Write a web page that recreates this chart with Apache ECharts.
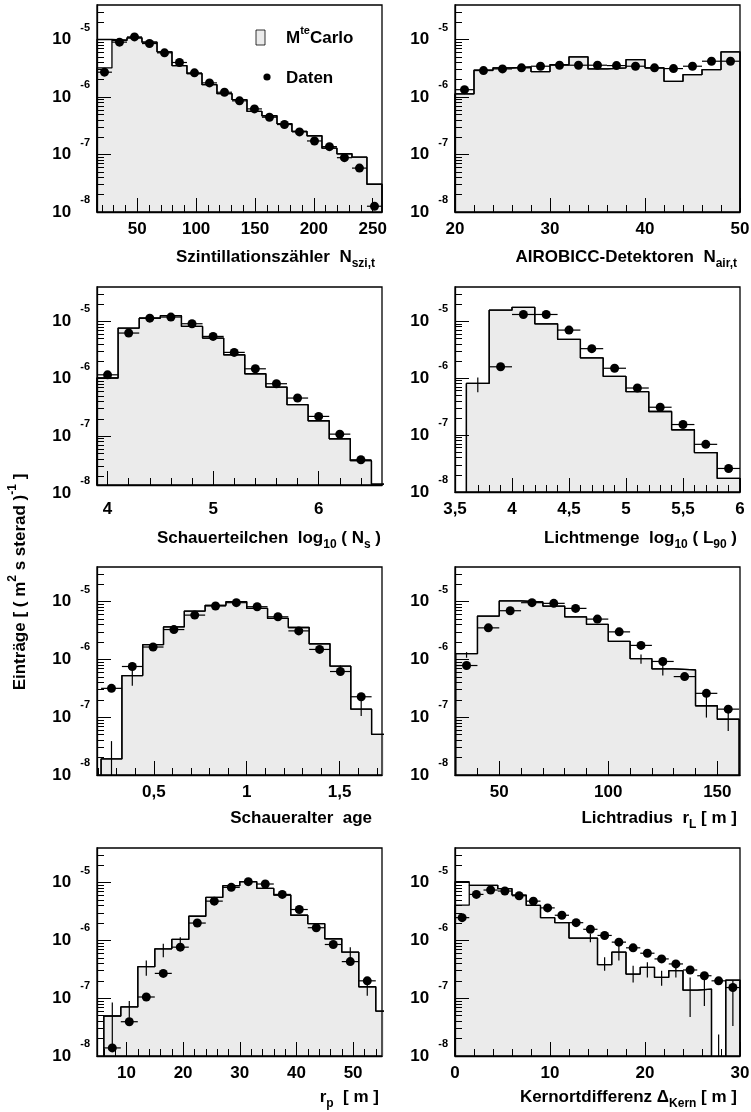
<!DOCTYPE html>
<html><head><meta charset="utf-8">
<script src="https://cdn.jsdelivr.net/npm/echarts@6/dist/echarts.min.js"></script>
<style>html,body{margin:0;padding:0;background:#fff}#c{width:751px;height:1112px}</style>
</head><body><div id="c"></div><script>
// ---------------- DATA ----------------
const Y_MAX = 3.98e-5;

// 1: Szintillationszähler N_szi,t
const p1Edges = [15.8, 28.5, 41.3, 54.0, 66.8, 79.5, 92.2, 105.0, 117.7, 130.5, 143.2, 155.9, 168.7, 181.4, 194.2, 206.9, 219.6, 232.4, 245.1, 257.9];
const p1Mc    = [1.0e-5, 9.7e-6, 1.07e-5, 8.98e-6, 6.1e-6, 3.52e-6, 2.55e-6, 1.64e-6, 1.14e-6, 8.98e-7, 5.62e-7, 4.72e-7, 3.43e-7, 2.52e-7, 2.12e-7, 1.29e-7, 1.03e-7, 8.98e-8, 3.04e-8];
const p1FillFirst = 3.2e-6;
const p1Data  = [2.70e-6, 9.0e-6, 1.11e-5, 8.5e-6, 5.86e-6, 3.98e-6, 2.63e-6, 1.76e-6, 1.21e-6, 8.57e-7, 6.21e-7, 4.45e-7, 3.32e-7, 2.47e-7, 1.72e-7, 1.37e-7, 8.8e-8, 5.8e-8, 1.26e-8];
const p1XTicks = [50, 100, 150, 200, 250];

// 2: AIROBICC-Detektoren N_air,t
const p2Edges = [20, 22, 24, 26, 28, 30, 32, 34, 36, 38, 40, 42, 44, 46, 48, 50];
const p2Mc    = [1.13e-6, 2.92e-6, 3.21e-6, 3.34e-6, 2.77e-6, 3.66e-6, 4.99e-6, 3.08e-6, 3.21e-6, 4.48e-6, 3.21e-6, 1.87e-6, 2.45e-6, 3.0e-6, 6.1e-6];
const p2Data  = [1.34e-6, 2.88e-6, 3.08e-6, 3.21e-6, 3.43e-6, 3.57e-6, 3.57e-6, 3.57e-6, 3.52e-6, 3.43e-6, 3.21e-6, 3.12e-6, 3.43e-6, 4.19e-6, 4.19e-6];
const p2XTicks = [20, 30, 40, 50];

// 3: Schauerteilchen log10(Ns)
const p3Edges = [3.9, 4.1, 4.3, 4.5, 4.7, 4.9, 5.1, 5.3, 5.5, 5.7, 5.9, 6.1, 6.3, 6.5, 6.7];
const p3Mc    = [1.03e-6, 7.65e-6, 1.14e-5, 1.26e-5, 8.18e-6, 5.12e-6, 2.62e-6, 1.22e-6, 7.16e-7, 3.52e-7, 1.85e-7, 8.97e-8, 3.72e-8, 1.45e-8];
const p3Data  = [1.17e-6, 6.26e-6, 1.14e-5, 1.19e-5, 9.1e-6, 5.47e-6, 2.88e-6, 1.49e-6, 8.18e-7, 4.6e-7, 2.2e-7, 1.08e-7, 3.86e-8, null];
const p3XTicks = [4, 5, 6];

// 4: Lichtmenge log10(L90)
const p4Edges = [3.6, 3.8, 4.0, 4.2, 4.4, 4.6, 4.8, 5.0, 5.2, 5.4, 5.6, 5.8, 6.0];
const p4Mc    = [8.07e-7, 1.56e-5, 1.75e-5, 8.98e-6, 4.79e-6, 2.26e-6, 1.07e-6, 5.78e-7, 2.59e-7, 1.24e-7, 4.92e-8, 1.73e-8];
const p4Data  = [null, 1.58e-6, 1.31e-5, 1.31e-5, 6.97e-6, 3.29e-6, 1.49e-6, 6.7e-7, 3.08e-7, 1.53e-7, 6.87e-8, 2.59e-8];
const p4McErr = [[3.7, 5.62e-7, 1.03e-6]];
const p4XTicks = [3.5, 4, 4.5, 5, 5.5, 6];

// 5: Schaueralter age
const p5Edges = [0.216, 0.328, 0.440, 0.552, 0.664, 0.776, 0.888, 1.000, 1.112, 1.224, 1.336, 1.448, 1.560, 1.672, 1.784];
const p5Mc    = [1.9e-8, 5.26e-7, 1.8e-6, 3.66e-6, 6.88e-6, 8.63e-6, 1.0e-5, 7.65e-6, 5.12e-6, 3.57e-6, 1.87e-6, 7.65e-7, 1.38e-7, 5.05e-8];
const p5Data  = [3.16e-7, 7.55e-7, 1.64e-6, 3.29e-6, 5.85e-6, 8.4e-6, 9.6e-6, 8.18e-6, 5.47e-6, 3.12e-6, 1.49e-6, 6.18e-7, 2.26e-7, null];
const p5McErr = [[0.272, 1.0e-8, 3.86e-8], [0.384, 3.52e-7, 7.55e-7], [1.504, 5.26e-7, 7.85e-7], [1.616, 1.05e-7, 2.35e-7]];
const p5XTicks = [0.5, 1, 1.5];

// 6: Lichtradius r_L
const p6Edges = [30, 40, 50, 60, 70, 80, 90, 100, 110, 120, 130, 140, 150, 160];
const p6Mc    = [1.26e-6, 5.62e-6, 1.03e-5, 9.87e-6, 8.4e-6, 5.47e-6, 4.03e-6, 2.06e-6, 1.03e-6, 6.87e-7, 6.6e-7, 1.58e-7, 9.23e-8];
const p6Data  = [7.85e-7, 3.52e-6, 6.97e-6, 9.6e-6, 9.35e-6, 7.65e-6, 4.99e-6, 3.0e-6, 1.75e-6, 9.23e-7, 5.05e-7, 2.59e-7, 1.38e-7];
const p6McErr = [[35, 1.07e-6, 1.34e-6], [115, 8.4e-7, 1.22e-6], [125, 5.26e-7, 9.6e-7], [145, 9.86e-8, 2.59e-7], [155, 5.78e-8, 1.38e-7]];
const p6XTicks = [50, 100, 150];

// 7: r_p
const p7Edges = [6, 9, 12, 15, 18, 21, 24, 27, 30, 33, 36, 39, 42, 45, 48, 51, 54, 57];
const p7Mc    = [4.92e-8, 7.06e-8, 3.52e-7, 7.16e-7, 1.04e-6, 2.62e-6, 5.55e-6, 8.87e-6, 1.04e-5, 7.96e-6, 6.1e-6, 2.73e-6, 1.95e-6, 1.07e-6, 6.27e-7, 1.58e-7, 6.0e-8];
const p7Data  = [1.38e-8, 3.92e-8, 1.05e-7, 2.69e-7, 7.65e-7, 2.0e-6, 4.79e-6, 8.29e-6, 1.04e-5, 9.48e-6, 6.26e-6, 3.43e-6, 1.66e-6, 8.51e-7, 4.3e-7, 2.0e-7, null];
const p7McErr = [[7.5, 1.38e-8, 8.4e-8], [10.5, 4.6e-8, 8.97e-8], [13.5, 2.45e-7, 4.48e-7], [16.5, 5.12e-7, 8.75e-7], [19.5, 7.66e-7, 1.14e-6], [49.5, 4.19e-7, 7.66e-7], [52.5, 1.1e-7, 2.0e-7]];
const p7XTicks = [10, 20, 30, 40, 50];

// 8: Kernortdifferenz Δ_Kern
const p8Edges = [0, 1.5, 3, 4.5, 6, 7.5, 9, 10.5, 12, 13.5, 15, 16.5, 18, 19.5, 21, 22.5, 24, 25.5, 27, 28.5, 30];
const p8Mc    = [1.04e-5, 8.98e-6, 8.98e-6, 7.86e-6, 6.1e-6, 4.03e-6, 2.48e-6, 2.03e-6, 1.1e-6, 1.1e-6, 3.81e-7, 6.27e-7, 2.62e-7, 3.43e-7, 2.29e-7, 3.0e-7, 1.38e-7, 1.44e-7, 0, 2.06e-7];
const p8FillFirst = 4.07e-6;
const p8Data  = [2.48e-6, 6.26e-6, 7.45e-6, 7.16e-6, 5.93e-6, 4.79e-6, 3.66e-6, 2.73e-6, 2.03e-6, 1.56e-6, 1.22e-6, 9.35e-7, 7.45e-7, 6.01e-7, 4.79e-7, 3.92e-7, 3.08e-7, 2.45e-7, 2.0e-7, 1.53e-7];
const p8McErr = [[14.25, 9.35e-7, 1.31e-6], [15.75, 3.0e-7, 5.12e-7], [17.25, 4.48e-7, 9.35e-7], [18.75, 1.87e-7, 3.66e-7], [20.25, 2.29e-7, 4.19e-7], [21.75, 1.64e-7, 3.0e-7], [23.25, 2.29e-7, 3.92e-7], [24.75, 4.72e-8, 2.29e-7], [26.25, 7.35e-8, 2.62e-7], [27.75, 1.0e-8, 2.36e-8], [29.25, 3.29e-8, 2.0e-7]];
const p8XTicks = [0, 10, 20, 30];

const titles = [
  '{t|Szintillationszähler  N}{u|szi,t}',
  '{t|AIROBICC-Detektoren  N}{u|air,t}',
  '{t|Schauerteilchen  log}{u|10}{t| ( N}{u|s}{t| )}',
  '{t|Lichtmenge  log}{u|10}{t| ( L}{u|90}{t| )}',
  '{t|Schaueralter  age}',
  '{t|Lichtradius  r}{u|L}{t| [ m ]}',
  '{t|r}{u|p}{t|  [ m ]}',
  '{t|Kernortdifferenz Δ}{u|Kern}{t| [ m ]}'
];
const yTitle = '{t|Einträge [ ( m}{p|2}{t| s sterad )}{p|-1}{t| ]}';

const panels = [
  {edges: p1Edges, mc: p1Mc, data: p1Data, fillFirst: p1FillFirst, mcErr: [], xMin: 15.8, xMax: 257.9, yMin: 1e-8, xTicks: p1XTicks, xMinor: 10},
  {edges: p2Edges, mc: p2Mc, data: p2Data, fillFirst: null, mcErr: [], xMin: 20, xMax: 50, yMin: 1e-8, xTicks: p2XTicks, xMinor: 2},
  {edges: p3Edges, mc: p3Mc, data: p3Data, fillFirst: null, mcErr: [], xMin: 3.9, xMax: 6.6, yMin: 1.4e-8, xTicks: p3XTicks, xMinor: 0.2},
  {edges: p4Edges, mc: p4Mc, data: p4Data, fillFirst: null, mcErr: p4McErr, xMin: 3.5, xMax: 6.0, yMin: 1e-8, xTicks: p4XTicks, xMinor: 0.1},
  {edges: p5Edges, mc: p5Mc, data: p5Data, fillFirst: null, mcErr: p5McErr, xMin: 0.194, xMax: 1.728, yMin: 1e-8, xTicks: p5XTicks, xMinor: 0.1},
  {edges: p6Edges, mc: p6Mc, data: p6Data, fillFirst: null, mcErr: p6McErr, xMin: 29.7, xMax: 160.4, yMin: 1e-8, xTicks: p6XTicks, xMinor: 10},
  {edges: p7Edges, mc: p7Mc, data: p7Data, fillFirst: null, mcErr: p7McErr, xMin: 4.8, xMax: 55.1, yMin: 1e-8, xTicks: p7XTicks, xMinor: 2},
  {edges: p8Edges, mc: p8Mc, data: p8Data, fillFirst: p8FillFirst, mcErr: p8McErr, xMin: 0, xMax: 30, yMin: 1e-8, xTicks: p8XTicks, xMinor: 2}
];

// ---------------- LAYOUT / STYLE ----------------
const F = "'Liberation Sans', Arial, Helvetica, sans-serif";
const layout = [
  {left: 97,  top: 5,   width: 285, height: 207, labMargin: 9,  titleX: 375, titleY: 257},
  {left: 455, top: 5,   width: 285, height: 207, labMargin: 9,  titleX: 737, titleY: 257},
  {left: 97,  top: 287, width: 285, height: 198, labMargin: 16, titleX: 381, titleY: 538},
  {left: 455, top: 287, width: 285, height: 205, labMargin: 9,  titleX: 737, titleY: 538},
  {left: 97,  top: 567, width: 285, height: 208, labMargin: 9,  titleX: 372, titleY: 818},
  {left: 455, top: 567, width: 285, height: 208, labMargin: 9,  titleX: 737, titleY: 818},
  {left: 97,  top: 848, width: 285, height: 208, labMargin: 9,  titleX: 379, titleY: 1097},
  {left: 455, top: 848, width: 285, height: 208, labMargin: 9,  titleX: 737, titleY: 1097}
];
const yRich = {
  b: {fontSize: 17, fontWeight: 'bold', fontFamily: F, color: '#000', lineHeight: 35},
  s: {fontSize: 11, fontWeight: 'bold', fontFamily: F, color: '#000', verticalAlign: 'top', padding: [0, 0, 0, 9]}
};
const titleRich = {
  t: {fontSize: 17, fontWeight: 'bold', fontFamily: F, color: '#000', lineHeight: 26},
  u: {fontSize: 12, fontWeight: 'bold', fontFamily: F, color: '#000', verticalAlign: 'bottom'},
  p: {fontSize: 12, fontWeight: 'bold', fontFamily: F, color: '#000', verticalAlign: 'top'}
};
const yLabelFmt = v => '{b|10}{s|' + Math.round(v) + '}';

const chart = echarts.init(document.getElementById('c'), null, {renderer: 'canvas'});
const option = {animation: false, backgroundColor: '#fff', grid: [], xAxis: [], yAxis: [], series: []};

function lineSeg(params, api) {
  const a = api.coord([api.value(0), api.value(2)]);
  const b = api.coord([api.value(1), api.value(3)]);
  return {type: 'line', shape: {x1: a[0], y1: a[1], x2: b[0], y2: b[1]}, style: {stroke: '#000', lineWidth: 1.2}};
}

panels.forEach((P, i) => {
  const L = layout[i];
  const yLo = Math.log10(P.yMin), yHi = Math.log10(Y_MAX);
  const lg = v => (v > 0 ? Math.log10(v) : yLo - 1);
  option.grid.push({left: L.left, top: L.top, width: L.width, height: L.height, show: true,
    borderColor: '#000', borderWidth: 1.3, backgroundColor: 'rgba(0,0,0,0)', z: 10,
    containLabel: false, outerBoundsMode: 'none'});

  const yMaj = [], yMin = [];
  for (let n = -9; n <= -4; n++) {
    if (n >= yLo - 1e-9 && n <= yHi) yMaj.push(n);
    for (let k = 2; k <= 9; k++) { const v = n + Math.log10(k); if (v > yLo && v < yHi) yMin.push(v); }
  }
  const xMin = [];
  for (let v = Math.ceil(P.xMin / P.xMinor - 1e-9) * P.xMinor; v <= P.xMax + 1e-9; v += P.xMinor) {
    const r = Math.round(v * 1000) / 1000;
    if (!P.xTicks.some(t => Math.abs(t - r) < 1e-6) && r > P.xMin && r < P.xMax) xMin.push(r);
  }
  const common = {type: 'value', gridIndex: i, min: P.xMin, max: P.xMax, position: 'bottom', z: 12,
    splitLine: {show: false}, minorTick: {show: false}, minorSplitLine: {show: false}};
  option.xAxis.push(Object.assign({}, common, {
    axisLine: {show: true, onZero: false, lineStyle: {color: '#000', width: 1.3}},
    axisTick: {show: true, inside: true, length: 14, customValues: P.xTicks, lineStyle: {color: '#000', width: 1}},
    axisLabel: {show: true, customValues: P.xTicks, margin: L.labMargin, fontSize: 17, fontWeight: 'bold',
      fontFamily: F, color: '#000', showMinLabel: true, showMaxLabel: true, hideOverlap: false,
      formatter: v => String(v).replace('.', ',')}
  }));
  option.xAxis.push(Object.assign({}, common, {
    axisLine: {show: false, onZero: false},
    axisTick: {show: true, inside: true, length: 7, customValues: xMin, lineStyle: {color: '#000', width: 1}},
    axisLabel: {show: false}
  }));
  const ycommon = {type: 'value', gridIndex: i, min: yLo, max: yHi, position: 'left', z: 12,
    splitLine: {show: false}, minorTick: {show: false}, minorSplitLine: {show: false}};
  option.yAxis.push(Object.assign({}, ycommon, {
    axisLine: {show: true, onZero: false, lineStyle: {color: '#000', width: 1.3}},
    axisTick: {show: true, inside: true, length: 14, customValues: yMaj, lineStyle: {color: '#000', width: 1}},
    axisLabel: {show: true, customValues: yMaj, margin: 7, formatter: yLabelFmt, rich: yRich,
      showMinLabel: true, showMaxLabel: true, hideOverlap: false}
  }));
  option.yAxis.push(Object.assign({}, ycommon, {
    axisLine: {show: false, onZero: false},
    axisTick: {show: true, inside: true, length: 7, customValues: yMin, lineStyle: {color: '#000', width: 1}},
    axisLabel: {show: false}
  }));

  const steps = vals => {
    const n = vals.length, pts = [[P.edges[0], yLo]];
    for (let k = 0; k < n; k++) pts.push([P.edges[k], lg(vals[k])]);
    pts.push([P.edges[n], lg(vals[n - 1])]);
    pts.push([P.edges[n], yLo]);
    return pts;
  };
  const fillVals = P.mc.slice();
  if (P.fillFirst) fillVals[0] = P.fillFirst;
  const ax = {xAxisIndex: 2 * i, yAxisIndex: 2 * i};
  option.series.push(Object.assign({type: 'line', step: 'end', symbol: 'none', silent: true, clip: true, z: 2,
    data: steps(fillVals), lineStyle: {color: '#000', width: 1.3},
    areaStyle: {color: '#ebebeb', opacity: 1, origin: 'start'}}, ax));
  option.series.push(Object.assign({type: 'line', step: 'end', symbol: 'none', silent: true, clip: true, z: 3,
    data: steps(P.mc), lineStyle: {color: '#000', width: 1.3}}, ax));

  const segs = [];
  P.data.forEach((v, k) => { if (v != null) segs.push([P.edges[k], P.edges[k + 1], lg(v), lg(v)]); });
  P.mcErr.forEach(e => segs.push([e[0], e[0], lg(e[1]), lg(e[2])]));
  option.series.push(Object.assign({type: 'custom', silent: true, clip: true, z: 4, data: segs, renderItem: lineSeg}, ax));

  const pts = [];
  P.data.forEach((v, k) => { if (v != null) pts.push([(P.edges[k] + P.edges[k + 1]) / 2, lg(v)]); });
  option.series.push(Object.assign({type: 'scatter', symbol: 'circle', symbolSize: 9, silent: true, z: 5,
    itemStyle: {color: '#000', opacity: 1}, data: pts}, ax));
});

chart.setOption(option);

// ---------------- TEXT / LEGEND ----------------
const els = [];
titles.forEach((t, i) => {
  els.push({type: 'text', x: layout[i].titleX, y: layout[i].titleY, z: 20,
    style: {text: t, rich: titleRich, align: 'right', verticalAlign: 'middle', fill: '#000'}});
});
els.push({type: 'text', x: 20, y: 582, rotation: Math.PI / 2, z: 20,
  style: {text: yTitle, rich: titleRich, align: 'center', verticalAlign: 'middle', fill: '#000'}});
els.push({type: 'rect', shape: {x: 256, y: 30, width: 9, height: 15}, z: 20,
  style: {fill: '#ebebeb', stroke: '#000', lineWidth: 0.8}});
els.push({type: 'text', x: 286, y: 38, z: 20,
  style: {text: '{t|M}{p|te}{t|Carlo}', rich: {
    t: {fontSize: 17, fontWeight: 'bold', fontFamily: F, color: '#000', lineHeight: 26},
    p: {fontSize: 11, fontWeight: 'bold', fontFamily: F, color: '#000', verticalAlign: 'top'}},
    align: 'left', verticalAlign: 'middle'}});
els.push({type: 'circle', shape: {cx: 267, cy: 77, r: 3.6}, z: 20, style: {fill: '#000'}});
els.push({type: 'text', x: 286, y: 78, z: 20,
  style: {text: 'Daten', font: "bold 17px " + F, fill: '#000', align: 'left', verticalAlign: 'middle'}});
const y8 = chart.convertToPixel({yAxisIndex: 4}, -8);
els.push({type: 'text', x: layout[2].left - 7, y: y8, z: 20,
  style: {text: yLabelFmt(-8), rich: yRich, align: 'right', verticalAlign: 'middle'}});
chart.setOption({graphic: {elements: els}});
</script></body></html>
